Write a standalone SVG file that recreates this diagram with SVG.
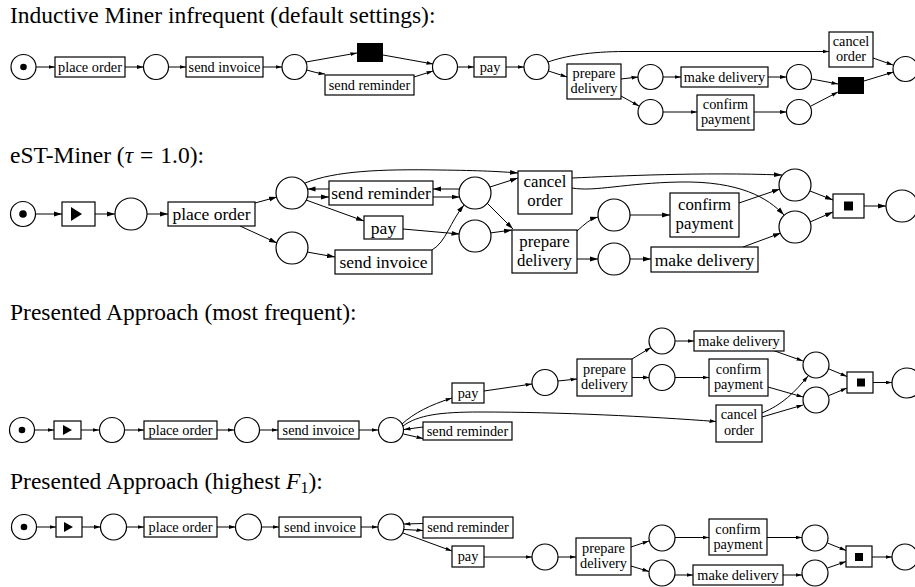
<svg xmlns="http://www.w3.org/2000/svg" width="915" height="587" viewBox="0 0 915 587">
<defs>
<marker id="a" markerWidth="7" markerHeight="5" refX="6.5" refY="2.5" orient="auto" markerUnits="userSpaceOnUse"><path d="M0,0.6 L6.5,2.5 L0,4.4 z" fill="#000"/></marker>
<marker id="b" markerWidth="9" markerHeight="6" refX="8" refY="3" orient="auto" markerUnits="userSpaceOnUse"><path d="M0,0.6 L8,3 L0,5.4 z" fill="#000"/></marker>
</defs>
<style>
.pl{fill:#fff;stroke:#000;stroke-width:1.2}
.tr{fill:#fff;stroke:#000;stroke-width:1.2}
.sil{fill:#000}
.e{fill:none;stroke:#000;stroke-width:1}
.ea{marker-end:url(#a)}
.eb{marker-end:url(#b)}
.s{font-family:"Liberation Serif","Times New Roman",serif;fill:#000}
.t14{font-size:14.3px;text-anchor:middle}
.t17{font-size:17.5px;text-anchor:middle}
.t17b{font-size:16.8px;text-anchor:middle}
.ti{font-size:23.5px}
</style>
<rect width="915" height="587" fill="#fff"/>

<!-- Titles -->
<text class="s ti" x="10" y="23">Inductive Miner infrequent (default settings):</text>
<text class="s ti" x="10" y="162.5">eST-Miner (<tspan font-style="italic">τ</tspan><tspan dx="7">=</tspan><tspan dx="7">1.0):</tspan></text>
<text class="s ti" x="10" y="319.5">Presented Approach (most frequent):</text>
<text class="s ti" x="10" y="489">Presented Approach (highest <tspan font-style="italic">F</tspan><tspan dy="4" font-size="16px">1</tspan><tspan dy="-4">):</tspan></text>

<!-- ===== Diagram 1 ===== -->
<g id="d1-edges" class="e ea">
<path d="M36,67 L55,67"/>
<path d="M125,67 L143.5,67"/>
<path d="M168.5,67 L186,67"/>
<path d="M263,67 L282,67"/>
<path d="M306,62 L357,53"/>
<path d="M306.5,70 Q316,73 325,74"/>
<path d="M383,55 L433,64"/>
<path d="M414,77 L433,71"/>
<path d="M457.5,67 L474,67"/>
<path d="M506,67 L524,67"/>
<path d="M548,62 C565,56 590,51.5 625,51.5 L829,51.5"/>
<path d="M548.5,71 L567,77"/>
<path d="M621,79 L638,77"/>
<path d="M621,96 L639,106"/>
<path d="M663,77 L681,77"/>
<path d="M768,77 L786.5,77"/>
<path d="M663,112 L697,112"/>
<path d="M754,112 L786.5,112"/>
<path d="M811.5,79 L838,84"/>
<path d="M811,106 L838,92"/>
<path d="M864,81 L893.5,72"/>
<path d="M873,58 L893,65"/>
</g>
<g id="d1-p1"><circle class="pl" cx="23.5" cy="67" r="12.5"/><circle cx="23.5" cy="67" r="3.3"/></g>
<g id="d1-placeorder"><rect class="tr" x="55" y="57" width="70" height="20"/><text class="s t14" x="90" y="71.5">place order</text></g>
<g id="d1-p2"><circle class="pl" cx="156" cy="67" r="12.5"/></g>
<g id="d1-sendinvoice"><rect class="tr" x="186" y="57" width="77" height="20"/><text class="s t14" x="224.5" y="71.5">send invoice</text></g>
<g id="d1-p3"><circle class="pl" cx="294.5" cy="67" r="12.5"/></g>
<g id="d1-tau1"><rect class="sil" x="357" y="43" width="26" height="19"/></g>
<g id="d1-sendreminder"><rect class="tr" x="325" y="75" width="89" height="20"/><text class="s t14" x="369.5" y="89.5">send reminder</text></g>
<g id="d1-p4"><circle class="pl" cx="445" cy="67" r="12.5"/></g>
<g id="d1-pay"><rect class="tr" x="474" y="57" width="32" height="20"/><text class="s t14" x="490" y="71.5">pay</text></g>
<g id="d1-p5"><circle class="pl" cx="536.5" cy="67" r="12.5"/></g>
<g id="d1-prepare"><rect class="tr" x="567" y="64" width="54" height="35"/><text class="s t14" x="594" y="78">prepare</text><text class="s t14" x="594" y="93">delivery</text></g>
<g id="d1-p6"><circle class="pl" cx="650.5" cy="77" r="12.5"/></g>
<g id="d1-p7"><circle class="pl" cx="650.5" cy="112" r="12.5"/></g>
<g id="d1-make"><rect class="tr" x="681" y="67" width="87" height="20"/><text class="s t14" x="724.5" y="81.5">make delivery</text></g>
<g id="d1-confirm"><rect class="tr" x="697" y="95" width="57" height="35"/><text class="s t14" x="725.5" y="109">confirm</text><text class="s t14" x="725.5" y="124">payment</text></g>
<g id="d1-p8"><circle class="pl" cx="799" cy="77" r="12.5"/></g>
<g id="d1-p9"><circle class="pl" cx="799" cy="112" r="12.5"/></g>
<g id="d1-tau2"><rect class="sil" x="838" y="77" width="26" height="17"/></g>
<g id="d1-cancel"><rect class="tr" x="829" y="32" width="44" height="35"/><text class="s t14" x="851" y="46">cancel</text><text class="s t14" x="851" y="61">order</text></g>
<g id="d1-final"><circle class="pl" cx="905.5" cy="69" r="12.5"/></g>

<!-- ===== Diagram 2 ===== -->
<g id="d2-edges" class="e eb">
<path d="M35.5,214 L62,214"/>
<path d="M95,214 L115,214"/>
<path d="M147,214 L168,214"/>
<path d="M255,203 L277,197"/>
<path d="M240,226 L277,243"/>
<path d="M305,183 C335,171 380,169 440,170 C480,170.5 500,171.5 518,173"/>
<path d="M329,189 L307.5,189"/>
<path d="M307.5,197 L329,197"/>
<path d="M459.5,189 L433,189"/>
<path d="M433,197 L459.5,197"/>
<path d="M306,200 L364,221"/>
<path d="M403,229 L459.5,234"/>
<path d="M307,252 L335,257"/>
<path d="M432,250 C446,242 450,222 464,205"/>
<path d="M490,187 L518,178"/>
<path d="M487,203 L513,229"/>
<path d="M490,233 L512,230"/>
<path d="M577,231 C585,224 590,219 598,217"/>
<path d="M577,259 L598,259"/>
<path d="M630,215 L670,215"/>
<path d="M630,259 L651,259"/>
<path d="M739,203 L780,189"/>
<path d="M743,247 L781,233"/>
<path d="M572,178 C620,176 700,172 782,175"/>
<path d="M572,188 C595,192 625,183 680,182 C740,181 768,198 784,215"/>
<path d="M810,191 L833,200"/>
<path d="M810,222 L833,212"/>
<path d="M864,206 L886,206"/>
</g>
<g id="d2-p1"><circle class="pl" cx="23" cy="214" r="12.5"/><circle cx="23" cy="214" r="3.8"/></g>
<g id="d2-start"><rect class="tr" x="62" y="202" width="33" height="24"/><polygon points="71,207 71,221 82,214" fill="#000"/></g>
<g id="d2-p2"><circle class="pl" cx="131" cy="214" r="16"/></g>
<g id="d2-placeorder"><rect class="tr" x="168" y="202" width="87" height="24"/><text class="s t17" x="211.5" y="220">place order</text></g>
<g id="d2-p3"><circle class="pl" cx="292" cy="193" r="16"/></g>
<g id="d2-p4"><circle class="pl" cx="292" cy="248" r="16"/></g>
<g id="d2-sendreminder"><rect class="tr" x="329" y="181" width="104" height="24"/><text class="s t17" x="381" y="199">send reminder</text></g>
<g id="d2-pay"><rect class="tr" x="364" y="216" width="39" height="23"/><text class="s t17" x="383.5" y="233.5">pay</text></g>
<g id="d2-sendinvoice"><rect class="tr" x="335" y="250" width="97" height="24"/><text class="s t17" x="383.5" y="268">send invoice</text></g>
<g id="d2-p5"><circle class="pl" cx="475" cy="193" r="16"/></g>
<g id="d2-p6"><circle class="pl" cx="475" cy="236" r="16"/></g>
<g id="d2-cancel"><rect class="tr" x="518" y="171" width="54" height="43"/><text class="s t17b" x="545" y="187">cancel</text><text class="s t17b" x="545" y="206">order</text></g>
<g id="d2-prepare"><rect class="tr" x="512" y="230" width="65" height="43"/><text class="s t17b" x="544.5" y="246.5">prepare</text><text class="s t17b" x="544.5" y="265.5">delivery</text></g>
<g id="d2-p7"><circle class="pl" cx="614" cy="215" r="16"/></g>
<g id="d2-p8"><circle class="pl" cx="614" cy="259" r="16"/></g>
<g id="d2-confirm"><rect class="tr" x="670" y="193" width="69" height="44"/><text class="s t17b" x="704.5" y="209.5">confirm</text><text class="s t17b" x="704.5" y="228.5">payment</text></g>
<g id="d2-make"><rect class="tr" x="651" y="247" width="107" height="25"/><text class="s t17" x="704.5" y="265.5">make delivery</text></g>
<g id="d2-p9"><circle class="pl" cx="795" cy="185" r="16"/></g>
<g id="d2-p10"><circle class="pl" cx="795" cy="227" r="16"/></g>
<g id="d2-end"><rect class="tr" x="833" y="194" width="31" height="24"/><rect x="844" y="201.5" width="9" height="9" fill="#000"/></g>
<g id="d2-final"><circle class="pl" cx="902" cy="206" r="16"/></g>

<!-- ===== Diagram 3 ===== -->
<g id="d3-edges" class="e ea">
<path d="M34.5,430 L54,430"/>
<path d="M81,430 L99,430"/>
<path d="M125,430 L144,430"/>
<path d="M217,430 L234,430"/>
<path d="M259.5,430 L278,430"/>
<path d="M359,430 L378,430"/>
<path d="M402,424 C414,413 430,405 452,398"/>
<path d="M403,426 C418,415 440,412 480,412 C560,412 650,416.5 716,421.5"/>
<path d="M423,427 L404,429.5"/>
<path d="M403.5,434 L423,438.5"/>
<path d="M484,391 L532,384"/>
<path d="M558,381 L577,379"/>
<path d="M632,359 L651,347.5"/>
<path d="M632,377.5 L649.5,377.5"/>
<path d="M675,341 L694,341"/>
<path d="M675,377.5 L709,377.5"/>
<path d="M772,350 L803,361"/>
<path d="M768,387 L803,397"/>
<path d="M762,413 C782,405 795,392 808,376"/>
<path d="M762,417 L803,405"/>
<path d="M829,369 L847,376.5"/>
<path d="M829,395.5 L847,388"/>
<path d="M873,382.5 L892,382.5"/>
</g>
<g id="d3-p1"><circle class="pl" cx="22" cy="430" r="12.5"/><circle cx="22" cy="430" r="3.3"/></g>
<g id="d3-start"><rect class="tr" x="54" y="421" width="27" height="18"/><polygon points="63,425 63,435 72,430" fill="#000"/></g>
<g id="d3-p2"><circle class="pl" cx="112" cy="430" r="12.5"/></g>
<g id="d3-placeorder"><rect class="tr" x="144" y="421" width="73" height="18"/><text class="s t14" x="180.5" y="434.5">place order</text></g>
<g id="d3-p3"><circle class="pl" cx="247" cy="430" r="12.5"/></g>
<g id="d3-sendinvoice"><rect class="tr" x="278" y="421" width="81" height="18"/><text class="s t14" x="318.5" y="434.5">send invoice</text></g>
<g id="d3-p4"><circle class="pl" cx="391" cy="430" r="12.5"/></g>
<g id="d3-pay"><rect class="tr" x="452" y="383" width="32" height="20"/><text class="s t14" x="468" y="397.5">pay</text></g>
<g id="d3-sendreminder"><rect class="tr" x="423" y="422" width="89" height="18"/><text class="s t14" x="467.5" y="435.5">send reminder</text></g>
<g id="d3-p5"><circle class="pl" cx="545" cy="382.5" r="13"/></g>
<g id="d3-prepare"><rect class="tr" x="577" y="359" width="55" height="37"/><text class="s t14" x="604.5" y="374">prepare</text><text class="s t14" x="604.5" y="389">delivery</text></g>
<g id="d3-p6"><circle class="pl" cx="662" cy="341" r="13"/></g>
<g id="d3-p7"><circle class="pl" cx="662" cy="377.5" r="13"/></g>
<g id="d3-make"><rect class="tr" x="694" y="331" width="90" height="20"/><text class="s t14" x="739" y="345.5">make delivery</text></g>
<g id="d3-confirm"><rect class="tr" x="709" y="359" width="59" height="37"/><text class="s t14" x="738.5" y="374">confirm</text><text class="s t14" x="738.5" y="389">payment</text></g>
<g id="d3-cancel"><rect class="tr" x="716" y="405" width="46" height="37"/><text class="s t14" x="739" y="419">cancel</text><text class="s t14" x="739" y="434.5">order</text></g>
<g id="d3-p8"><circle class="pl" cx="816" cy="365" r="13"/></g>
<g id="d3-p9"><circle class="pl" cx="816" cy="400" r="13"/></g>
<g id="d3-end"><rect class="tr" x="847" y="372" width="26" height="21"/><rect x="857" y="378.5" width="8" height="8" fill="#000"/></g>
<g id="d3-final"><circle class="pl" cx="907" cy="383" r="15"/></g>

<!-- ===== Diagram 4 ===== -->
<g id="d4-edges" class="e ea">
<path d="M36.5,527 L56,527"/>
<path d="M82,527 L100.5,527"/>
<path d="M126.5,527 L144,527"/>
<path d="M217,527 L235.5,527"/>
<path d="M261.5,527 L279,527"/>
<path d="M361,527 L378,527"/>
<path d="M423,523.5 L404,524"/>
<path d="M404,529.5 L423,530.5"/>
<path d="M403,533 L452,551"/>
<path d="M484,557 L532,557"/>
<path d="M558,557 L576,557"/>
<path d="M631,547 L649,541"/>
<path d="M631,566 L649,571.5"/>
<path d="M675,537.5 L709,537.5"/>
<path d="M675,575 L693,575"/>
<path d="M767,537.5 L802,537.5"/>
<path d="M783,575 L802,575"/>
<path d="M827.5,543 L846,550.5"/>
<path d="M827.5,568 L846,561.5"/>
<path d="M872,557 L892,557"/>
</g>
<g id="d4-p1"><circle class="pl" cx="24" cy="527" r="12.5"/><circle cx="24" cy="527" r="3.3"/></g>
<g id="d4-start"><rect class="tr" x="56" y="517" width="26" height="20"/><polygon points="64,522 64,532 73,527" fill="#000"/></g>
<g id="d4-p2"><circle class="pl" cx="113.5" cy="527" r="13"/></g>
<g id="d4-placeorder"><rect class="tr" x="144" y="517" width="73" height="20"/><text class="s t14" x="180.5" y="531.5">place order</text></g>
<g id="d4-p3"><circle class="pl" cx="248.5" cy="527" r="13"/></g>
<g id="d4-sendinvoice"><rect class="tr" x="279" y="517" width="82" height="20"/><text class="s t14" x="320" y="531.5">send invoice</text></g>
<g id="d4-p4"><circle class="pl" cx="391" cy="527" r="13"/></g>
<g id="d4-sendreminder"><rect class="tr" x="423" y="517" width="90" height="21"/><text class="s t14" x="468" y="532">send reminder</text></g>
<g id="d4-pay"><rect class="tr" x="452" y="546" width="32" height="21"/><text class="s t14" x="468" y="561">pay</text></g>
<g id="d4-p5"><circle class="pl" cx="545" cy="557" r="13"/></g>
<g id="d4-prepare"><rect class="tr" x="576" y="538" width="55" height="37"/><text class="s t14" x="603.5" y="552.5">prepare</text><text class="s t14" x="603.5" y="567.5">delivery</text></g>
<g id="d4-p6"><circle class="pl" cx="662" cy="538" r="13"/></g>
<g id="d4-p7"><circle class="pl" cx="662" cy="573" r="13"/></g>
<g id="d4-confirm"><rect class="tr" x="709" y="519" width="58" height="36"/><text class="s t14" x="738" y="534">confirm</text><text class="s t14" x="738" y="549">payment</text></g>
<g id="d4-make"><rect class="tr" x="693" y="565" width="90" height="20"/><text class="s t14" x="738" y="579.5">make delivery</text></g>
<g id="d4-p8"><circle class="pl" cx="815" cy="538" r="13"/></g>
<g id="d4-p9"><circle class="pl" cx="815" cy="573" r="13"/></g>
<g id="d4-end"><rect class="tr" x="846" y="546" width="26" height="21"/><rect x="855" y="553" width="8" height="8" fill="#000"/></g>
<g id="d4-final"><circle class="pl" cx="905" cy="557" r="13"/></g>
</svg>
